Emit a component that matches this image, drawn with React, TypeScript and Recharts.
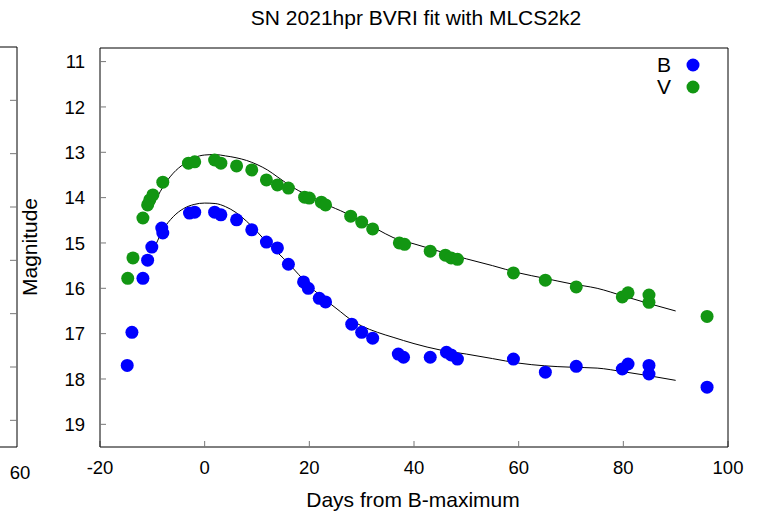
import React from 'react';
import { ComposedChart, Scatter, Line, XAxis, YAxis, Legend } from 'recharts';

// observed epochs (days from B max) and magnitudes
const bDays = [-14.8, -13.9, -11.8, -10.9, -10.1, -8.2, -8.0, -2.9, -1.9, 1.9, 3.1, 6.1, 9.0, 11.8, 13.9, 16.0, 18.9, 19.8, 21.9, 23.1, 28.1, 30.0, 32.1, 37.0, 38.0, 43.1, 46.2, 47.1, 48.3, 59.0, 65.1, 71.0, 79.8, 80.9, 84.9, 84.9, 96.0];
const bMags = [17.70, 16.97, 15.78, 15.38, 15.09, 14.67, 14.78, 14.34, 14.32, 14.32, 14.38, 14.49, 14.71, 14.98, 15.11, 15.47, 15.86, 16.00, 16.22, 16.30, 16.79, 16.97, 17.10, 17.45, 17.52, 17.52, 17.41, 17.47, 17.56, 17.56, 17.85, 17.72, 17.78, 17.67, 17.70, 17.89, 18.18];
const vDays = [-14.7, -13.7, -11.8, -10.9, -10.5, -9.9, -8.0, -3.1, -1.9, 1.9, 3.1, 6.1, 9.0, 11.8, 13.9, 16.0, 19.1, 20.0, 22.3, 23.1, 27.9, 30.0, 32.1, 37.2, 38.2, 43.1, 46.0, 47.1, 48.3, 59.0, 65.1, 71.0, 79.8, 80.9, 84.9, 84.9, 96.0];
const vMags = [15.78, 15.33, 14.45, 14.16, 14.05, 13.94, 13.66, 13.24, 13.21, 13.17, 13.24, 13.30, 13.39, 13.61, 13.72, 13.79, 13.99, 14.01, 14.10, 14.16, 14.41, 14.54, 14.69, 15.00, 15.03, 15.18, 15.27, 15.33, 15.36, 15.66, 15.82, 15.97, 16.19, 16.10, 16.15, 16.31, 16.62];

// MLCS2k2 fit curves
const fitDays = [-10, -8, -6, -4, -2, 0, 2, 4, 6, 8, 10, 12, 14, 16, 18, 20, 22, 24, 26, 28, 30, 33, 36, 40, 45, 50, 55, 60, 65, 70, 75, 80, 85, 90];
const bFit = [15.22, 14.72, 14.42, 14.24, 14.15, 14.12, 14.13, 14.2, 14.33, 14.52, 14.75, 15.0, 15.22, 15.45, 15.7, 15.95, 16.15, 16.34, 16.52, 16.7, 16.83, 16.97, 17.08, 17.22, 17.36, 17.45, 17.55, 17.65, 17.71, 17.74, 17.76, 17.84, 17.93, 18.03];
const vFit = [14.21, 13.77, 13.46, 13.26, 13.12, 13.06, 13.05, 13.08, 13.12, 13.18, 13.27, 13.39, 13.55, 13.71, 13.85, 13.96, 14.07, 14.19, 14.29, 14.4, 14.52, 14.7, 14.88, 15.02, 15.19, 15.35, 15.5, 15.66, 15.78, 15.9, 16.0, 16.17, 16.34, 16.5];

const xTicks = [-20, 0, 20, 40, 60, 80, 100];
const yTicks = [11, 12, 13, 14, 15, 16, 17, 18, 19];
const leftPanelXTicks = [60];
const leftPanelYTicks = [1, 2, 3, 4, 5, 6, 7];

const FONT = '"Liberation Sans", Arial, Helvetica, sans-serif';
const B_COLOR = '#0000ff';
const V_COLOR = '#129612';
const TICK_GRAY = '#777';

const bPoints = bDays.map((d, i) => ({ day: d, mag: bMags[i] }));
const vPoints = vDays.map((d, i) => ({ day: d, mag: vMags[i] }));
const bFitData = fitDays.map((d, i) => ({ day: d, mag: bFit[i] }));
const vFitData = fitDays.map((d, i) => ({ day: d, mag: vFit[i] }));

const dot = (color: string) => (props: any) => (
  <circle cx={props.cx} cy={props.cy} r={6.5} fill={color} />
);

function LegendBox({ payload }: any) {
  const items = (payload || []).filter((p: any) => p.type !== 'none');
  return (
    <div style={{ fontFamily: FONT }}>
      {items.map((p: any) => (
        <div key={p.value} style={{ display: 'flex', alignItems: 'center', justifyContent: 'flex-end', height: 22 }}>
          <span style={{ fontSize: 21, lineHeight: '22px', color: '#000' }}>{p.value}</span>
          <svg width={14} height={14} style={{ marginLeft: 15 }}>
            <circle cx={7} cy={7} r={6.5} fill={p.color} />
          </svg>
        </div>
      ))}
    </div>
  );
}

const tickStyle = { fill: '#000', fontSize: 18.5, fontFamily: FONT };

export default function App() {
  return (
    <div style={{ position: 'fixed', left: 0, top: 0, width: 767, height: 517, background: '#fff', overflow: 'hidden' }}>
      {/* neighbouring panel, cut off at the left edge */}
      <div style={{ position: 'absolute', left: -100, top: 0 }}>
        <ComposedChart width={140} height={517} margin={{ top: 27, right: 20, bottom: 40, left: 0 }}>
          <XAxis xAxisId="lb" type="number" dataKey="day" domain={[40, 60]} ticks={leftPanelXTicks} interval={0} tick={{ ...tickStyle, dx: 3 }} tickLine={false} tickMargin={13} axisLine={{ stroke: '#000' }} height={30} allowDataOverflow />
          <XAxis xAxisId="lt" orientation="top" type="number" domain={[40, 60]} tick={false} tickLine={false} axisLine={{ stroke: '#000' }} height={20} allowDataOverflow />
          <YAxis yAxisId="lr" orientation="right" type="number" dataKey="mag" domain={[0, 7.5]} ticks={leftPanelYTicks} interval={0} tickFormatter={() => ''} tickSize={-7} tickLine={{ stroke: TICK_GRAY }} axisLine={{ stroke: '#000' }} width={3} reversed allowDataOverflow />
          <Scatter xAxisId="lb" yAxisId="lr" data={[]} dataKey="mag" isAnimationActive={false} />
          <XAxis xAxisId="lt2" hide type="number" domain={[40, 60]} />
        </ComposedChart>
      </div>

      <div style={{ position: 'absolute', left: 0, top: 0 }}>
        <ComposedChart width={767} height={517} margin={{ top: 28, right: 19, bottom: 40, left: 0 }}>
          <XAxis type="number" dataKey="day" domain={[-20, 100]} ticks={xTicks} interval={0} tick={tickStyle} tickSize={-6} tickMargin={20} tickLine={{ stroke: TICK_GRAY }} axisLine={{ stroke: '#000' }} height={30} allowDataOverflow />
          <XAxis xAxisId="top" orientation="top" type="number" domain={[-20, 100]} ticks={xTicks} interval={0} tickFormatter={() => ''} tickSize={-6} tickLine={{ stroke: TICK_GRAY }} axisLine={{ stroke: '#000' }} height={20} />
          <YAxis type="number" dataKey="mag" domain={[10.7, 19.5]} ticks={yTicks} interval={0} reversed tick={tickStyle} tickSize={-6} tickMargin={21} tickLine={{ stroke: TICK_GRAY }} axisLine={{ stroke: '#000' }} width={100} allowDataOverflow />
          <YAxis yAxisId="right" orientation="right" type="number" domain={[10.7, 19.5]} ticks={yTicks} interval={0} reversed tickFormatter={() => ''} tickSize={-6} tickLine={{ stroke: TICK_GRAY }} axisLine={{ stroke: '#000' }} width={20} />
          <Scatter name="B" data={bPoints} dataKey="mag" fill={B_COLOR} shape={dot(B_COLOR)} isAnimationActive={false} />
          <Scatter name="V" data={vPoints} dataKey="mag" fill={V_COLOR} shape={dot(V_COLOR)} isAnimationActive={false} />
          <Line data={bFitData} dataKey="mag" type="monotone" stroke="#000" strokeWidth={1} dot={false} legendType="none" isAnimationActive={false} />
          <Line data={vFitData} dataKey="mag" type="monotone" stroke="#000" strokeWidth={1} dot={false} legendType="none" isAnimationActive={false} />
          <Legend layout="vertical" align="center" verticalAlign="middle" content={<LegendBox />} wrapperStyle={{ left: 630, top: 54, width: 70 }} />
        </ComposedChart>
      </div>

      <svg width={767} height={517} style={{ position: 'absolute', left: 0, top: 0, pointerEvents: 'none' }}>
        <text x={416} y={25} textAnchor="middle" fontFamily={FONT} fontSize={21} fill="#000">SN 2021hpr BVRI fit with MLCS2k2</text>
        <text x={413} y={507} textAnchor="middle" fontFamily={FONT} fontSize={21} fill="#000">Days from B-maximum</text>
        <text x={37} y={247} textAnchor="middle" fontFamily={FONT} fontSize={21} fill="#000" transform="rotate(-90 37 247)">Magnitude</text>
      </svg>
    </div>
  );
}
